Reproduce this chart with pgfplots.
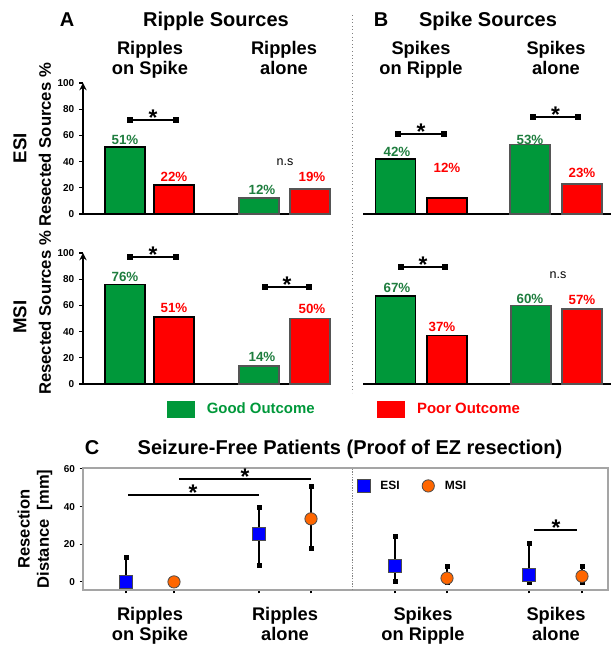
\documentclass[border=0pt]{standalone}
\usepackage{pgfplots}
\pgfplotsset{compat=1.18}
\usepackage{fontspec}
\setmainfont{Liberation Sans}
\definecolor{gg}{RGB}{0,152,58}
\definecolor{gtext}{RGB}{30,125,62}
\definecolor{rr}{RGB}{255,0,0}
\definecolor{edgegray}{RGB}{85,85,85}
\definecolor{framegray}{RGB}{165,165,165}
\definecolor{esiblue}{RGB}{0,0,255}
\definecolor{msiorange}{RGB}{255,102,0}
\newcommand{\fs}[1]{\fontsize{#1}{#1}\selectfont\bfseries}
\tikzset{
 pg/.style={font=\fs{10}, text=gtext},
 pr/.style={font=\fs{10}, text=rr},
 sstar/.style={font=\fs{17}, yshift=1.6pt},
 ns/.style={font=\fontsize{9.4}{10}\selectfont},
}
\begin{document}
\begin{tikzpicture}[x=0.75pt,y=0.75pt]
\path[use as bounding box] (0,0) rectangle (611,646);
\pgfplotsset{
 topaxis/.style={scale only axis, width=186pt, height=98.25pt, ymin=0, ymax=100, clip=false,
   axis x line=bottom, axis line style={-, black, line width=1.4pt}, xtick=\empty,
   tick label style={font=\fs{7.5}}, /pgf/number format/assume math mode=true},
 gbar/.style={ybar, bar width=40, bar shift=0pt, fill=gg, line width=1.3pt},
 rbar/.style={ybar, bar width=40, bar shift=0pt, fill=rr, line width=1.3pt},
 sig/.style={black, line width=1.1pt, mark=square*, mark size=1.4pt, mark options={solid}, forget plot},
}
% ---------- A ESI
\begin{axis}[topaxis, at={(62.25pt,324pt)}, anchor=south west, xmin=83, xmax=331,
  axis y line=left, ytick={0,20,...,100}, tick align=outside, major tick length=3pt,
  ytick style={black, line width=1pt}]
\addplot[gbar, draw=black] coordinates {(125,51)};
\addplot[rbar, draw=black] coordinates {(174,22)};
\addplot[gbar, draw=edgegray] coordinates {(259,12)};
\addplot[rbar, draw=edgegray] coordinates {(310,19)};
\addplot[sig] coordinates {(130,71.8) (176,71.8)};
\node[sstar] at (axis cs:153,71.8) {*};
\node[ns] at (axis cs:285,39.7) {n.s};
\node[pg] at (axis cs:125,56.5) {51\%};
\node[pr] at (axis cs:174,28.2) {22\%};
\node[pg] at (axis cs:262,18.3) {12\%};
\node[pr] at (axis cs:312,28.2) {19\%};
\end{axis}
% ---------- B ESI
\begin{axis}[topaxis, at={(272.25pt,324pt)}, anchor=south west, xmin=363, xmax=611, axis y line=none]
\addplot[gbar, draw=black] coordinates {(395.5,42)};
\addplot[rbar, draw=black] coordinates {(447,12)};
\addplot[gbar, draw=edgegray] coordinates {(530,53)};
\addplot[rbar, draw=edgegray] coordinates {(582,23)};
\addplot[sig] coordinates {(398,61.1) (444,61.1)};
\addplot[sig] coordinates {(533,74) (578,74)};
\node[sstar] at (axis cs:421,61.1) {*};
\node[sstar] at (axis cs:555.5,74) {*};
\node[pg] at (axis cs:397,47.3) {42\%};
\node[pr] at (axis cs:447,35.1) {12\%};
\node[pg] at (axis cs:530,56.5) {53\%};
\node[pr] at (axis cs:582,31.3) {23\%};
\end{axis}
% ---------- A MSI
\begin{axis}[topaxis, at={(62.25pt,196.5pt)}, anchor=south west, xmin=83, xmax=331,
  axis y line=left, ytick={0,20,...,100}, tick align=outside, major tick length=3pt,
  ytick style={black, line width=1pt},
  legend style={at={(0.339,-0.195)}, anchor=west, draw=none, fill=none, inner sep=0pt, outer sep=0pt,
   font=\fs{11.2}, legend columns=2,
   /tikz/every odd column/.append style={column sep=9pt},
   /tikz/every even column/.append style={column sep=47pt},
   nodes={inner sep=0pt}}, legend cell align=left]
\addplot[gbar, draw=black, legend image code/.code={\fill[gg] (0pt,-5.6pt) rectangle (19.5pt,5.6pt);}] coordinates {(125,76)};
\addlegendentry{\textcolor{gg}{Good Outcome}}
\addplot[rbar, draw=black, legend image code/.code={\fill[rr] (0pt,-5.6pt) rectangle (19.5pt,5.6pt);}] coordinates {(174,51)};
\addlegendentry{\textcolor{rr}{Poor Outcome}}
\addplot[gbar, draw=edgegray, forget plot] coordinates {(259,14)};
\addplot[rbar, draw=edgegray, forget plot] coordinates {(310,50)};
\addplot[sig] coordinates {(130,97) (176,97)};
\addplot[sig] coordinates {(265,74) (309,74)};
\node[sstar] at (axis cs:153,97) {*};
\node[sstar] at (axis cs:287,74) {*};
\node[pg] at (axis cs:125,81.7) {76\%};
\node[pr] at (axis cs:174,58) {51\%};
\node[pg] at (axis cs:262,20.6) {14\%};
\node[pr] at (axis cs:312,57.3) {50\%};
\end{axis}
% ---------- B MSI
\begin{axis}[topaxis, at={(272.25pt,196.5pt)}, anchor=south west, xmin=363, xmax=611, axis y line=none]
\addplot[gbar, draw=black] coordinates {(395.5,67)};
\addplot[rbar, draw=black] coordinates {(447,37)};
\addplot[gbar, draw=edgegray] coordinates {(531,60)};
\addplot[rbar, draw=edgegray] coordinates {(582,57)};
\addplot[sig] coordinates {(401,89.3) (445,89.3)};
\node[sstar] at (axis cs:423,89.3) {*};
\node[ns] at (axis cs:558,83.2) {n.s};
\node[pg] at (axis cs:397,73.3) {67\%};
\node[pr] at (axis cs:442,43.5) {37\%};
\node[pg] at (axis cs:530,64.9) {60\%};
\node[pr] at (axis cs:582,64.1) {57\%};
\end{axis}
% ---------- C
\begin{axis}[at={(62.25pt,42pt)}, anchor=south west, scale only axis, width=393.75pt, height=91.5pt,
  xmin=83, xmax=608, ymin=-4.3, ymax=60.5, clip=false,
  axis line style={draw=framegray, line width=1.2pt},
  xtick={126,174,259,311,395,447,529,582}, xticklabels={},
  ytick={0,20,40,60}, xtick pos=bottom, ytick pos=left,
  tick align=outside, major tick length=2.5pt, tick style={black, line width=0.8pt},
  tick label style={font=\fs{7.5}}, /pgf/number format/assume math mode=true,
  legend style={at={(0.522,0.853)}, anchor=west, draw=none, fill=none, inner sep=0pt,
   font=\fs{9}, legend columns=2,
   /tikz/every odd column/.append style={column sep=7.5pt},
   /tikz/every even column/.append style={column sep=16.5pt},
   nodes={inner sep=0pt}}]
\draw[framegray!80!black, dash pattern=on 1pt off 1pt, line width=0.5pt] (axis cs:352,-4.3) -- (axis cs:352,60.5);
\addplot[black, line width=1.6pt, forget plot] coordinates {(128,46.3) (259,46.3)};
\addplot[black, line width=1.6pt, forget plot] coordinates {(179,54.8) (311,54.8)};
\addplot[black, line width=1.6pt, forget plot] coordinates {(534,27.7) (577,27.7)};
\node[sstar] at (axis cs:193,46.3) {*};
\node[sstar] at (axis cs:245,54.8) {*};
\node[sstar] at (axis cs:556,27.7) {*};
\addplot[only marks, mark=square*, mark size=4.6pt,
  mark options={fill=esiblue, draw=black!70, line width=0.6pt},
  error bars/.cd, y dir=both, y explicit,
  error bar style={black, line width=1.3pt},
  error mark=square*, error mark options={mark size=1.5pt, black, fill=black},
  /pgfplots/legend image code/.code={\filldraw[fill=esiblue, draw=black!70, line width=0.6pt] (0pt,-4.6pt) rectangle (9.2pt,4.6pt);}]
  table[x=x, y=y, y error plus=ep, y error minus=em] {
x y ep em
126 0 13.3 0
259 25.5 13.9 16.5
395 8.5 16 8
529 3.7 17 3.7
};
\addlegendentry{ESI}
\addplot[only marks, mark=*, mark size=4.6pt,
  mark options={fill=msiorange, draw=black!70, line width=0.6pt},
  error bars/.cd, y dir=both, y explicit,
  error bar style={black, line width=1.3pt},
  error mark=square*, error mark options={mark size=1.5pt, black, fill=black},
  /pgfplots/legend image code/.code={\filldraw[fill=msiorange, draw=black!70, line width=0.6pt] (4.6pt,0pt) circle (4.6pt);}]
  table[x=x, y=y, y error plus=ep, y error minus=em] {
x y ep em
311 33.5 17.5 15.5
447 2 6.5 2
582 3 5.5 3
};
\addlegendentry{MSI}
\addplot[only marks, mark=*, mark size=4.6pt, forget plot,
  mark options={fill=msiorange, draw=black!70, line width=0.6pt}] coordinates {(174,0)};
\end{axis}
% ---------- texts
\draw[gray, dotted, line width=0.7pt] (352,631) -- (352,253);
\node[font=\fs{15}, anchor=base] at (67,619.5) {A};
\node[font=\fs{15}, anchor=base] at (216,619.5) {Ripple Sources};
\node[font=\fs{15}, anchor=base] at (381,619.5) {B};
\node[font=\fs{15}, anchor=base] at (488,619.5) {Spike Sources};
\node[font=\fs{13.7}, anchor=base] at (150,591) {Ripples};
\node[font=\fs{13.7}, anchor=base] at (150,571) {on Spike};
\node[font=\fs{13.7}, anchor=base] at (284,591) {Ripples};
\node[font=\fs{13.7}, anchor=base] at (284,571) {alone};
\node[font=\fs{13.7}, anchor=base] at (421,591) {Spikes};
\node[font=\fs{13.7}, anchor=base] at (421,571) {on Ripple};
\node[font=\fs{13.7}, anchor=base] at (556,591) {Spikes};
\node[font=\fs{13.7}, anchor=base] at (556,571) {alone};
\node[font=\fs{14}, rotate=90] at (20,498) {ESI};
\node[font=\fs{14}, rotate=90] at (20,329) {MSI};
\node[font=\fs{12.5}, rotate=90] at (45,501) {Resected Sources \%};
\node[font=\fs{12.5}, rotate=90] at (45,333) {Resected Sources \%};
\node[font=\fs{15}, anchor=base] at (92,191) {C};
\node[font=\fs{15}, anchor=base west] at (133,191) {Seizure-Free Patients (Proof of EZ resection)};
\node[font=\fs{12.4}, rotate=90, align=center] at (35,117) {Resection\\[2pt]Distance\ \ [mm]};
\node[font=\fs{13.7}, anchor=base] at (150,25) {Ripples};
\node[font=\fs{13.7}, anchor=base] at (150,5) {on Spike};
\node[font=\fs{13.7}, anchor=base] at (285,25) {Ripples};
\node[font=\fs{13.7}, anchor=base] at (285,5) {alone};
\node[font=\fs{13.7}, anchor=base] at (423,25) {Spikes};
\node[font=\fs{13.7}, anchor=base] at (423,5) {on Ripple};
\node[font=\fs{13.7}, anchor=base] at (556,25) {Spikes};
\node[font=\fs{13.7}, anchor=base] at (556,5) {alone};
\end{tikzpicture}
\end{document}
